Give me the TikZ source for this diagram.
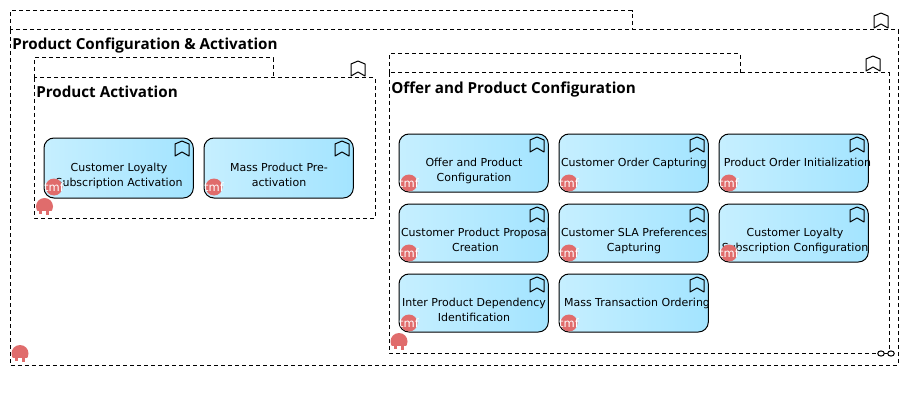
\documentclass[tikz,border=0pt]{standalone}
\usepackage{fontspec}
\setmainfont{DejaVu Sans}
\newfontfamily\titlefont{Open Sans}
\definecolor{boxL}{HTML}{C6EFFF}
\definecolor{boxR}{HTML}{A3E4FF}
\definecolor{tmfred}{HTML}{E06C6C}
\tikzset{
  x=0.75pt,y=-0.75pt,
  grp/.style={draw=black,dashed,line width=0.75pt,dash pattern=on 3.2pt off 2.05pt},
  grouptitle/.style={anchor=base west,inner sep=0pt,font=\titlefont\fontsize{11.4pt}{13pt}\selectfont\bfseries},
  fn/.style={draw=black,line width=0.75pt,rounded corners=7.5pt,left color=boxL,right color=boxR,minimum width=112pt,inner sep=0pt,outer sep=0pt,anchor=north west},
  fnlabel/.style={align=center,inner sep=0pt,font=\fontsize{8.25pt}{11.25pt}\selectfont,execute at begin node=\strut,execute at end node=\strut},
  tmflabel/.style={text=white,inner sep=0pt,font=\fontsize{8.6pt}{9pt}\selectfont},
}
\newcommand{\mybook}[2]{%
  \draw[black,line width=0.75pt,line join=round] (#1,#2+3) -- (#1+7,#2) -- (#1+14,#2+3) -- (#1+14,#2+15) -- (#1+7,#2+11) -- (#1,#2+15) -- cycle;}
\newcommand{\myfn}[6]{% name,x,y,height,label x shift,text
  \node[fn,minimum height=#4*0.75pt] (#1) at (#2,#3) {};
  \node[fnlabel] (#1t) at (#2+75+#5,#3+#4/2+9.5) {#6};
  \mybook{#2+131}{#3+3}
  \fill[tmfred] (#2+10,#3+49) circle[radius=8.5];
  \node[tmflabel] (#1m) at (#2+10,#3+49.5) {tmf};}
\newcommand{\mygrpmark}[2]{%
  \begin{scope}
    \clip (#1-9,#2-9) rectangle (#1+9,#2+4);
    \fill[tmfred] (#1,#2) circle[radius=8.5];
  \end{scope}
  \fill[tmfred] (#1-5.5,#2+4) rectangle (#1-2.5,#2+7.5);
  \fill[tmfred] (#1+1.5,#2+4) rectangle (#1+4.5,#2+8);}
\begin{document}
\begin{tikzpicture}
\useasboundingbox (0,0) rectangle (907,403);
\fill[white] (0,0) rectangle (907,403);
% outer group
\draw[grp] (10,30) -- (10,11) -- (632,11) -- (632,30);
\draw[grp] (10,30) rectangle (898,365);
\mybook{874}{13}
\node[grouptitle] (outer) at (12,49.5) {Product Configuration \& Activation};
\mygrpmark{20}{353.5}
% activation group
\draw[grp] (34,78) -- (34,58) -- (273,58) -- (273,78);
\draw[grp] (34,78) rectangle (375,218);
\mybook{351}{61}
\node[grouptitle] (act) at (36,97.5) {Product Activation};
\mygrpmark{44.5}{206.5}
\myfn{a1}{44}{138}{60}{0}{Customer Loyalty\\Subscription Activation}
\myfn{a2}{204}{138}{60}{0}{Mass Product Pre-\\activation}
% offer group
\draw[grp] (389,73) -- (389,54) -- (740,54) -- (740,73);
\draw[grp] (389,73) rectangle (889,353);
\mybook{866}{56}
\node[grouptitle] (off) at (391,93.5) {Offer and Product Configuration};
\mygrpmark{399}{341.5}
\myfn{b1}{399}{134}{58}{0}{Offer and Product\\Configuration}
\myfn{b2}{559}{134}{58}{0}{Customer Order Capturing\\\phantom{x}}
\myfn{b3}{719}{134}{58}{3.5}{Product Order Initialization\\\phantom{x}}
\myfn{c1}{399}{204}{58}{1.5}{Customer Product Proposal\\Creation}
\myfn{c2}{559}{204}{58}{0}{Customer SLA Preferences\\Capturing}
\myfn{c3}{719}{204}{58}{1}{Customer Loyalty\\Subscription Configuration}
\myfn{d1}{399}{274}{58}{0}{Inter Product Dependency\\Identification}
\myfn{d2}{559}{274}{58}{3}{Mass Transaction Ordering\\\phantom{x}}
% collaboration mark
\coordinate (ca) at (881,353.5);
\coordinate (cb) at (891,353.5);
\draw[black,line width=1.2pt] (ca) -- (cb);
\draw[black,line width=0.75pt,fill=white] (ca) ellipse[x radius=3.3,y radius=2.6];
\draw[black,line width=0.75pt,fill=white] (cb) ellipse[x radius=3.3,y radius=2.6];
\end{tikzpicture}
\end{document}
